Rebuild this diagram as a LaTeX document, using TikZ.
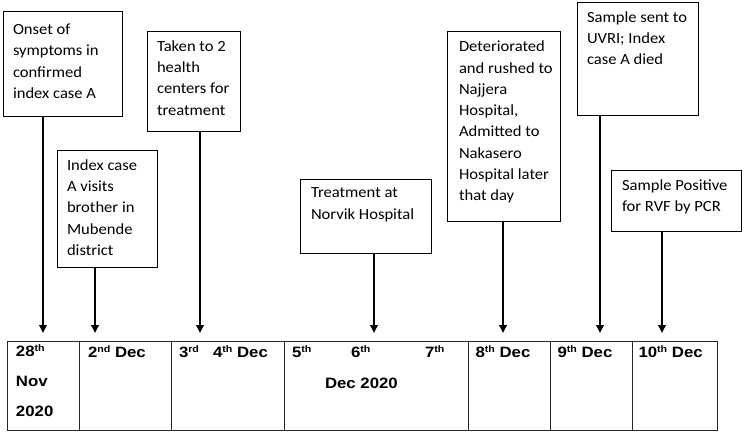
\documentclass[tikz,border=0pt]{standalone}
\usepackage{fontspec}
\setmainfont{Carlito}[FakeStretch=1.07]
\newfontfamily\tabfont{Liberation Sans}[FakeStretch=1.12]
\usetikzlibrary{arrows.meta}
\newcommand\supx[1]{\raisebox{5pt}{\fontsize{9.5}{10}\selectfont #1}}
\begin{document}
\begin{tikzpicture}[x=1pt,y=-1pt,
  evbox/.style={draw, line width=1pt, anchor=north west, inner sep=0pt, outer sep=0pt},
  evtext/.style={anchor=north west, inner sep=0pt, outer sep=0pt, align=left,
    font=\fontsize{15.5}{21.3}\selectfont, execute at begin node={\rule{0pt}{12pt}}},
  cell/.style={draw=black!85, line width=1pt, anchor=north west, inner sep=0pt,
    outer sep=0pt, minimum height=89pt},
  celltext/.style={anchor=base west, inner sep=0pt, outer sep=0pt,
    font=\tabfont\bfseries\fontsize{15}{30}\selectfont},
  celltextml/.style={anchor=north west, inner sep=0pt, outer sep=0pt, align=left,
    font=\tabfont\bfseries\fontsize{15}{30}\selectfont, execute at begin node={\rule{0pt}{12pt}}},
  arr/.style={line width=1.8pt, -{Triangle[length=8pt,width=7.5pt]}}
]
\useasboundingbox (0,0) rectangle (744,433);

% timeline cells
\node[cell, minimum width=72pt]  (c1) at (7,341) {};
\node[cell, minimum width=92pt]  (c2) at (79,341) {};
\node[cell, minimum width=113pt] (c3) at (171,341) {};
\node[cell, minimum width=184pt] (c4) at (284,341) {};
\node[cell, minimum width=82pt]  (c5) at (468,341) {};
\node[cell, minimum width=82pt]  (c6) at (550,341) {};
\node[cell, minimum width=85pt]  (c7) at (632,341) {};

% cell texts
\node[celltextml] (t1) at (16,345) {28\supx{th}\\Nov\\2020};
\node[celltext] (t2) at (88,357) {2\supx{nd} Dec};
\node[celltext] (t3a) at (179,357) {3\supx{rd}};
\node[celltext] (t3b) at (213,357) {4\supx{th} Dec};
\node[celltext] (t4a) at (292,357) {5\supx{th}};
\node[celltext] (t4b) at (351,357) {6\supx{th}};
\node[celltext] (t4c) at (425,357) {7\supx{th}};
\node[celltext] (t4d) at (325,388) {Dec 2020};
\node[celltext] (t5) at (475.5,357) {8\supx{th} Dec};
\node[celltext] (t6) at (557.5,357) {9\supx{th} Dec};
\node[celltext] (t7) at (638.5,357) {10\supx{th} Dec};

% event boxes
\node[evbox, minimum width=119pt, minimum height=105pt] (b1) at (3,12) {};
\node[evtext] (x1) at (13,24) {Onset of\\symptoms in\\confirmed\\index case A};
\node[evbox, minimum width=100pt, minimum height=117pt] (b2) at (57,150) {};
\node[evtext] (x2) at (67,159.5) {Index case\\A visits\\brother in\\Mubende\\district};
\node[evbox, minimum width=93pt, minimum height=100pt] (b3) at (147,32) {};
\node[evtext] (x3) at (157,40.5) {Taken to 2\\health\\centers for\\treatment};
\node[evbox, minimum width=131pt, minimum height=74pt] (b4) at (300,179) {};
\node[evtext] (x4) at (311,188) {Treatment at\\Norvik Hospital};
\node[evbox, minimum width=113pt, minimum height=189pt] (b5) at (447,32) {};
\node[evtext] (x5) at (459,41) {Deteriorated\\and rushed to\\Najjera\\Hospital,\\Admitted to\\Nakasero\\Hospital later\\that day};
\node[evbox, minimum width=121pt, minimum height=113pt] (b6) at (577,3) {};
\node[evtext] (x6) at (587,11.5) {Sample sent to\\UVRI; Index\\case A died};
\node[evbox, minimum width=130pt, minimum height=61pt] (b7) at (611,170) {};
\node[evtext] (x7) at (622,179.5) {Sample Positive\\for RVF by PCR};

% arrow end points
\coordinate (a1) at (43,333);
\coordinate (a2) at (95,333);
\coordinate (a3) at (200,333);
\coordinate (a4) at (374,333);
\coordinate (a5) at (503,333);
\coordinate (a6) at (600,333);
\coordinate (a7) at (662,333);

\draw[arr] (b1.south -| a1) -- (a1);
\draw[arr] (b2.south -| a2) -- (a2);
\draw[arr] (b3.south -| a3) -- (a3);
\draw[arr] (b4.south -| a4) -- (a4);
\draw[arr] (b5.south -| a5) -- (a5);
\draw[arr] (b6.south -| a6) -- (a6);
\draw[arr] (b7.south -| a7) -- (a7);
\end{tikzpicture}
\end{document}
